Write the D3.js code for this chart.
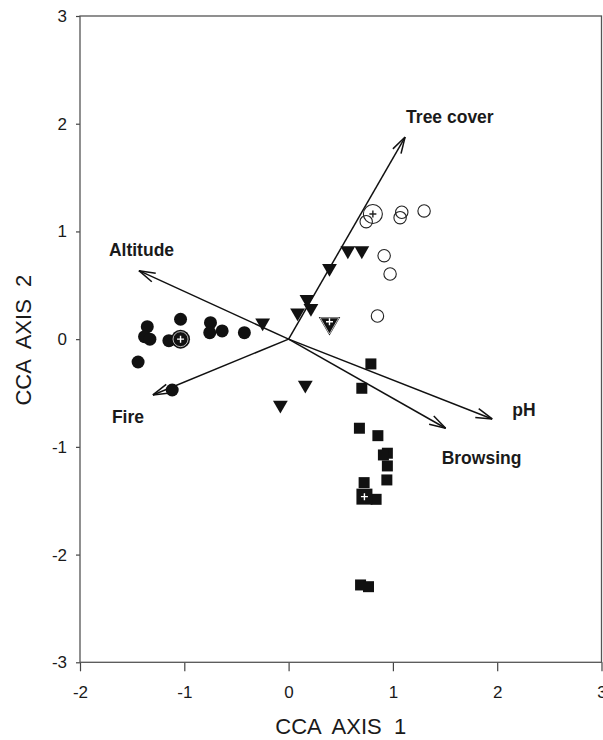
<!DOCTYPE html>
<html lang="en">
<head>
    <meta charset="UTF-8">
    <script src="https://d3js.org/d3.v7.min.js"></script>
    <title>CCA biplot</title>
    <style>
        body { margin: 0; background: #fff; }
        text { font-family: "Liberation Sans", Arial, sans-serif; fill: #1a1a1a; }
    </style>
</head>
<body>
    <script>
        // site scores, one array per group (CCA axis 1, CCA axis 2)
        var filledCircles = [[-1.036, 0.185], [-1.355, 0.116], [-1.381, 0.023], [-1.330, 0.000],
                             [-1.148, -0.014], [-0.749, 0.153], [-0.756, 0.060], [-0.637, 0.076],
                             [-0.424, 0.060], [-1.443, -0.212], [-1.116, -0.472]];
        var openCircles = [[0.744, 1.091], [1.085, 1.178], [1.069, 1.128], [1.299, 1.190],
                           [0.916, 0.775], [0.973, 0.605], [0.852, 0.215]];
        var triangles = [[0.568, 0.822], [0.702, 0.822], [0.392, 0.658], [0.176, 0.370],
                         [0.214, 0.287], [0.086, 0.246], [-0.249, 0.153], [-0.079, -0.611],
                         [0.160, -0.425]];
        var squares = [[0.789, -0.230], [0.702, -0.456], [0.679, -0.827], [0.856, -0.896],
                       [0.947, -1.059], [0.909, -1.075], [0.947, -1.177], [0.942, -1.307],
                       [0.724, -1.332], [0.839, -1.487], [0.690, -2.282], [0.766, -2.298]];

        // group centroids
        var centroidFilled = [-1.036, 0.000];
        var centroidOpen = [0.808, 1.162];
        var centroidTriangle = [0.392, 0.148];
        var centroidSquare = [0.727, -1.462];

        // environmental vectors
        var varNames = ["Tree cover", "Altitude", "Fire", "pH", "Browsing"];
        var varX = [1.117, -1.435, -1.301, 1.952, 1.506];
        var varY = [1.876, 0.636, -0.518, -0.741, -0.827];

        var xTicks = [-2, -1, 0, 1, 2, 3];
        var yTicks = [-3, -2, -1, 0, 1, 2, 3];

        var W = 603, H = 740;
        var margin = {left: 80, top: 16, right: 1.5, bottom: 77.7};

        var x = d3.scaleLinear().domain([-2, 3]).range([margin.left, W - margin.right]);
        var y = d3.scaleLinear().domain([-3, 3]).range([H - margin.bottom, margin.top]);

        var svg = d3.select("body").append("svg")
                    .attr("width", W)
                    .attr("height", H);

        // axes
        var xAxis = svg.append("g")
                       .attr("transform", "translate(0," + y(-3) + ")")
                       .call(d3.axisBottom(x).tickValues(xTicks).tickFormat(d3.format("d"))
                               .tickSize(9).tickPadding(15));
        var yAxis = svg.append("g")
                       .attr("transform", "translate(" + x(-2) + ",0)")
                       .call(d3.axisLeft(y).tickValues(yTicks).tickFormat(d3.format("d"))
                               .tickSize(4).tickPadding(9));
        [xAxis, yAxis].forEach(function(a) {
            a.select(".domain").remove();
            a.selectAll("line").attr("stroke", "#444").attr("stroke-width", 1.2);
            a.selectAll("text").style("font-size", "17px")
             .style("font-family", "'Liberation Sans', Arial, sans-serif").attr("fill", "#1a1a1a");
        });
        // d3 uses a unicode minus; the original uses a hyphen
        svg.selectAll(".tick text").text(function(d) { return String(d); });

        // frame
        svg.append("rect")
           .attr("x", x(-2)).attr("y", y(3))
           .attr("width", x(3) - x(-2)).attr("height", y(-3) - y(3))
           .attr("fill", "none").attr("stroke", "#555").attr("stroke-width", 1.3);

        // axis titles
        svg.append("text")
           .attr("x", (x(-2) + x(3)) / 2).attr("y", 734)
           .attr("text-anchor", "middle")
           .style("font-size", "22px").style("white-space", "pre")
           .text("CCA  AXIS  1");
        svg.append("text")
           .attr("transform", "translate(31," + (y(0) + 1) + ") rotate(-90)")
           .attr("text-anchor", "middle")
           .style("font-size", "22px").style("white-space", "pre")
           .text("CCA  AXIS  2");

        // vectors
        var vec = svg.append("g").attr("stroke", "#111").attr("stroke-width", 1.5)
                     .attr("fill", "none");
        var labelOffset = {"Tree cover": [1, -14], "Altitude": [-30, -15], "Fire": [-41, 28],
                           "pH": [20, -3], "Browsing": [-4, 36]};
        varNames.forEach(function(name, i) {
            var x0 = x(0), y0 = y(0), x1 = x(varX[i]), y1 = y(varY[i]);
            vec.append("line").attr("x1", x0).attr("y1", y0).attr("x2", x1).attr("y2", y1);
            var ang = Math.atan2(y1 - y0, x1 - x0);
            var len = 17, spread = 0.28;
            [-spread, spread].forEach(function(s) {
                vec.append("line")
                   .attr("x1", x1).attr("y1", y1)
                   .attr("x2", x1 - len * Math.cos(ang + s))
                   .attr("y2", y1 - len * Math.sin(ang + s));
            });
            svg.append("text")
               .attr("x", x1 + labelOffset[name][0])
               .attr("y", y1 + labelOffset[name][1])
               .style("font-size", "17.5px").style("font-weight", "bold")
               .text(name);
        });

        // points
        var pts = svg.append("g");
        pts.selectAll("circle.filled").data(filledCircles).enter().append("circle")
           .attr("cx", function(d) { return x(d[0]); })
           .attr("cy", function(d) { return y(d[1]); })
           .attr("r", 6.5).attr("fill", "#111");
        pts.selectAll("circle.open").data(openCircles).enter().append("circle")
           .attr("cx", function(d) { return x(d[0]); })
           .attr("cy", function(d) { return y(d[1]); })
           .attr("r", 6.2).attr("fill", "none").attr("stroke", "#222").attr("stroke-width", 1.1);

        var tri = d3.symbol().type(d3.symbolTriangle).size(95);
        pts.selectAll("path.tri").data(triangles).enter().append("path")
           .attr("d", tri)
           .attr("transform", function(d) {
               return "translate(" + x(d[0]) + "," + y(d[1]) + ") rotate(180)";
           })
           .attr("fill", "#111");

        var sq = d3.symbol().type(d3.symbolSquare).size(121);
        pts.selectAll("path.sq").data(squares).enter().append("path")
           .attr("d", sq)
           .attr("transform", function(d) {
               return "translate(" + x(d[0]) + "," + y(d[1]) + ")";
           })
           .attr("fill", "#111");

        // centroids
        function plus(cx, cy, colour) {
            pts.append("path")
               .attr("d", "M" + (cx - 3.5) + "," + cy + "h7M" + cx + "," + (cy - 3.5) + "v7")
               .attr("stroke", colour).attr("stroke-width", 1.4);
        }
        var cx, cy;
        cx = x(centroidFilled[0]); cy = y(centroidFilled[1]);
        pts.append("circle").attr("cx", cx).attr("cy", cy).attr("r", 9.5).attr("fill", "#111");
        pts.append("circle").attr("cx", cx).attr("cy", cy).attr("r", 7.5)
           .attr("fill", "none").attr("stroke", "#fff").attr("stroke-width", 0.7);
        plus(cx, cy, "#fff");

        cx = x(centroidOpen[0]); cy = y(centroidOpen[1]);
        pts.append("circle").attr("cx", cx).attr("cy", cy).attr("r", 9.5)
           .attr("fill", "none").attr("stroke", "#222").attr("stroke-width", 1.1);
        plus(cx, cy, "#222");

        cx = x(centroidTriangle[0]); cy = y(centroidTriangle[1]);
        pts.append("path").attr("d", d3.symbol().type(d3.symbolTriangle).size(200))
           .attr("transform", "translate(" + cx + "," + cy + ") rotate(180)")
           .attr("fill", "#111");
        pts.append("path").attr("d", d3.symbol().type(d3.symbolTriangle).size(150))
           .attr("transform", "translate(" + cx + "," + cy + ") rotate(180)")
           .attr("fill", "none").attr("stroke", "#fff").attr("stroke-width", 0.7);
        plus(cx, cy - 1.5, "#fff");

        cx = x(centroidSquare[0]); cy = y(centroidSquare[1]);
        pts.append("path").attr("d", d3.symbol().type(d3.symbolSquare).size(256))
           .attr("transform", "translate(" + cx + "," + cy + ")")
           .attr("fill", "#111");
        plus(cx, cy, "#fff");
    </script>
</body>
</html>
